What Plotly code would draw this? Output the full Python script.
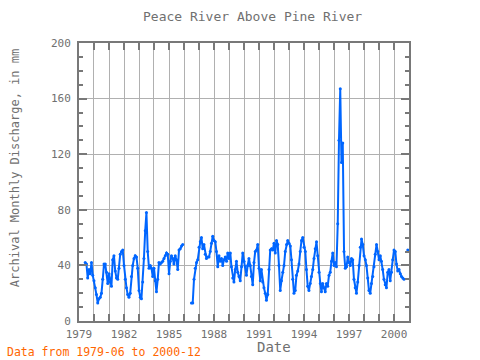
import pandas as pd
import plotly.graph_objects as go

# Monthly discharge (mm), per year; None = missing month
v1979 = [42, 41, 31, 37, 34, 42, 33]  # Jun-Dec
v1980 = [29, 24, 19, 13, 16, 17, 20, 30, 41, 41, 35, 27]
v1981 = [34, 28, 25, 44, 47, 36, 31, 30, 38, 48, 50, 51]
v1982 = [40, 30, 24, 19, 17, 20, 32, 40, 45, 47, 46, 38]
v1983 = [22, 17, 16, 28, 45, 65, 78, 50, 38, 40, 38, 32]
v1984 = [38, 29, 21, 30, 42, 41, 42, 43, 45, 47, 49, 48]
v1985 = [34, 43, 47, 45, 41, 47, 44, 37, 51, 52, 54, 55]
v1986 = [None, None, None, None, None, None, 13, 13, 30, 38, 42, 44]
v1987 = [53, 57, 60, 52, 55, 48, 45, 46, 46, 50, 56, 61]
v1988 = [58, 57, 50, 39, 47, 43, 45, 40, 44, 46, 43, 49]
v1989 = [45, 49, 39, 31, 28, 37, 43, 35, 32, 29, 39, 49]
v1990 = [43, 39, 33, 40, 45, 40, 32, 26, 42, 50, 51, 55]
v1991 = [38, 29, 37, 28, 24, 20, 15, 19, 37, 51, 52, 51]
v1992 = [56, 49, 58, 55, 40, 22, 29, 35, 40, 50, 55, 58]
v1993 = [56, 54, 44, 30, 20, 22, 33, 36, 41, 50, 58, 60]
v1994 = [53, 50, 37, 25, 22, 27, 32, 37, 45, 52, 57, 47]
v1995 = [35, 27, 21, 27, 24, 21, 27, 25, 33, 35, 43, 49]
v1996 = [40, 42, 39, 70, 130, 167, 114, 128, 50, 38, 39, 46]
v1997 = [42, 40, 45, 44, 30, 24, 20, 28, 40, 53, 59, 55]
v1998 = [47, 44, 40, 31, 22, 20, 27, 32, 39, 48, 55, 50]
v1999 = [44, 47, 43, 37, 30, 26, 24, 35, 37, 29, 35, 44]
v2000 = [51, 50, 41, 36, 37, 34, 32, 31, 30, None, None, 51]

values = (v1979 + v1980 + v1981 + v1982 + v1983 + v1984 + v1985 + v1986 + v1987
          + v1988 + v1989 + v1990 + v1991 + v1992 + v1993 + v1994 + v1995 + v1996
          + v1997 + v1998 + v1999 + v2000)
dates = pd.date_range("1979-06-01", "2000-12-01", freq="MS")

title_text = "Peace River Above Pine River"
y_title = "Archival Monthly Discharge, in mm"
x_title = "Date"
footnote = "Data from 1979-06 to 2000-12"

FONT = "DejaVu Sans Mono"
GRAY = "#707070"
FRAME = "#787878"
GRID = "#b0b0b0"

fig = go.Figure()
fig.add_trace(go.Scatter(
    x=dates, y=values, mode="lines+markers",
    line=dict(color="#0066ff", width=2),
    marker=dict(color="#0066ff", size=3),
    connectgaps=False, showlegend=False, hoverinfo="skip",
))

fig.update_layout(
    width=480, height=360,
    margin=dict(l=79, r=71, t=43, b=39),
    paper_bgcolor="white", plot_bgcolor="white",
    font=dict(family=FONT, color=GRAY, size=11),
    xaxis=dict(
        type="date", range=["1979-01-01", "2000-12-31"],
        tick0="1979-01-01", dtick="M36", tickformat="%Y",
        ticks="inside", ticklen=7, tickwidth=2, tickcolor=FRAME,
        showline=True, linewidth=2, linecolor=FRAME, mirror="ticks",
        showgrid=True, gridcolor=GRID, gridwidth=1,
        minor=dict(dtick="M12", tick0="1979-01-01", ticks="inside", ticklen=7,
                   tickwidth=2, tickcolor=FRAME, showgrid=True, gridcolor=GRID, gridwidth=1),
        tickfont=dict(family=FONT, color=GRAY, size=11),
        ticklabelstandoff=2,
        zeroline=False,
    ),
    yaxis=dict(
        range=[0, 200], tick0=0, dtick=40,
        ticks="inside", ticklen=8, tickwidth=2, tickcolor=FRAME,
        showline=True, linewidth=2, linecolor=FRAME, mirror="ticks",
        showgrid=True, gridcolor=GRID, gridwidth=1,
        minor=dict(dtick=10, ticks="inside", ticklen=4, tickwidth=2,
                   tickcolor=FRAME, showgrid=False),
        tickfont=dict(family=FONT, color=GRAY, size=11),
        ticklabelstandoff=4,
        zeroline=False,
    ),
    annotations=[
        dict(text=title_text, xref="paper", yref="paper", x=0.527, y=1.0946,
             xanchor="center", yanchor="middle", showarrow=False,
             font=dict(family=FONT, color=GRAY, size=13)),
        dict(text=x_title, xref="paper", yref="paper", x=0.591, y=-0.0935,
             xanchor="center", yanchor="middle", showarrow=False,
             font=dict(family=FONT, color=GRAY, size=14)),
        dict(text=y_title, xref="paper", yref="paper", x=-0.1918, y=0.5486,
             xanchor="center", yanchor="middle", showarrow=False, textangle=-90,
             font=dict(family=FONT, color=GRAY, size=12)),
        dict(text=footnote, xref="paper", yref="paper", x=-0.2242, y=-0.1115,
             xanchor="left", yanchor="middle", showarrow=False,
             font=dict(family=FONT, color="#ff6600", size=11.5)),
    ],
)

fig.write_html("out.html", config={"displayModeBar": False},
               post_script="document.body.style.margin='0';")
